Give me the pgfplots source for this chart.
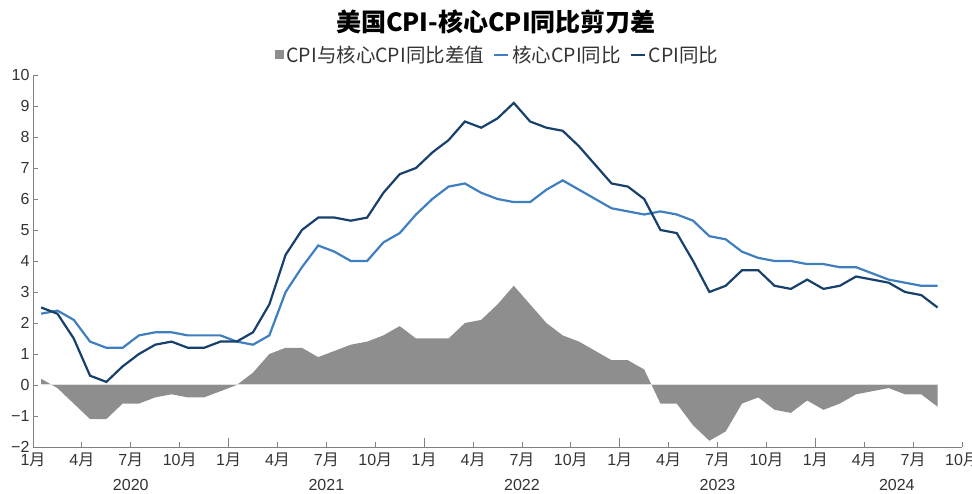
\documentclass[border=0pt]{standalone}
\usepackage{fontspec}
\setmainfont{Liberation Sans}
\newfontfamily\cjk{Noto Sans CJK SC}
\usepackage{pgfplots}
\pgfplotsset{compat=1.18}
\usepackage{pgfplotstable}

\definecolor{cpi}{HTML}{17406C}
\definecolor{core}{HTML}{3F7FBF}
\definecolor{diff}{HTML}{8E8E8E}
\definecolor{axisgray}{HTML}{808080}
\newcommand\m[1]{#1{\cjk 月}}

\pgfplotstableread{
x cpi core diff
0.5 2.5 2.3 0.2
1.5 2.3 2.4 -0.1
2.5 1.5 2.1 -0.6
3.5 0.3 1.4 -1.1
4.5 0.1 1.2 -1.1
5.5 0.6 1.2 -0.6
6.5 1.0 1.6 -0.6
7.5 1.3 1.7 -0.4
8.5 1.4 1.7 -0.3
9.5 1.2 1.6 -0.4
10.5 1.2 1.6 -0.4
11.5 1.4 1.6 -0.2
12.5 1.4 1.4 0.0
13.5 1.7 1.3 0.4
14.5 2.6 1.6 1.0
15.5 4.2 3.0 1.2
16.5 5.0 3.8 1.2
17.5 5.4 4.5 0.9
18.5 5.4 4.3 1.1
19.5 5.3 4.0 1.3
20.5 5.4 4.0 1.4
21.5 6.2 4.6 1.6
22.5 6.8 4.9 1.9
23.5 7.0 5.5 1.5
24.5 7.5 6.0 1.5
25.5 7.9 6.4 1.5
26.5 8.5 6.5 2.0
27.5 8.3 6.2 2.1
28.5 8.6 6.0 2.6
29.5 9.1 5.9 3.2
30.5 8.5 5.9 2.6
31.5 8.3 6.3 2.0
32.5 8.2 6.6 1.6
33.5 7.7 6.3 1.4
34.5 7.1 6.0 1.1
35.5 6.5 5.7 0.8
36.5 6.4 5.6 0.8
37.5 6.0 5.5 0.5
38.5 5.0 5.6 -0.6
39.5 4.9 5.5 -0.6
40.5 4.0 5.3 -1.3
41.5 3.0 4.8 -1.8
42.5 3.2 4.7 -1.5
43.5 3.7 4.3 -0.6
44.5 3.7 4.1 -0.4
45.5 3.2 4.0 -0.8
46.5 3.1 4.0 -0.9
47.5 3.4 3.9 -0.5
48.5 3.1 3.9 -0.8
49.5 3.2 3.8 -0.6
50.5 3.5 3.8 -0.3
51.5 3.4 3.6 -0.2
52.5 3.3 3.4 -0.1
53.5 3.0 3.3 -0.3
54.5 2.9 3.2 -0.3
55.5 2.5 3.2 -0.7
}\data

\begin{document}
\begin{tikzpicture}
\begin{axis}[
  at={(0,0)}, anchor=south west,
  scale only axis, width=929pt, height=372pt,
  xmin=0, xmax=57, ymin=-2, ymax=10,
  axis x line=bottom, axis y line=left,
  axis line style={-, draw=axisgray, line width=0.8pt},
  tick align=inside,
  tick style={draw=axisgray, line width=0.8pt},
  major tick length=5pt,
  xtick={0,3,...,57},
  xticklabels={\m1,\m4,\m7,\m{10},\m1,\m4,\m7,\m{10},\m1,\m4,\m7,\m{10},\m1,\m4,\m7,\m{10},\m1,\m4,\m7,\m{10}},
  extra x ticks={0,12,24,36,48},
  extra x tick labels={},
  extra x tick style={major tick length=9pt},
  ytick={-2,-1,...,10},
  yticklabels={−2,−1,0,1,2,3,4,5,6,7,8,9,10},
  ticklabel style={font=\fontsize{16}{16}\selectfont, text=black!80},
  xticklabel style={yshift=-2pt},
  legend columns=3,
  legend cell align=left,
  legend style={at={(0.5,1.054)}, anchor=center, draw=none, fill=none,
    font=\cjk\fontsize{19.5}{19.5}\selectfont, text=black!80,
    /tikz/every even column/.append style={column sep=7pt},
    /tikz/every odd column/.append style={column sep=1pt}},
  legend image code/.code={\draw[#1] (0pt,0pt) -- (14pt,0pt);},
  clip=false,
]
\addplot[fill=diff, draw=none, area legend,
  legend image code/.code={\fill[diff] (3pt,-4.5pt) rectangle (12pt,4.5pt);}]
  table[x=x,y=diff]{\data} \closedcycle;
\addlegendentry{CPI与核心CPI同比差值}
\addplot[forget plot, draw=white!75!gray, line width=1pt] coordinates {(0.5,0) (55.5,0)};
\addplot[core, line width=2.2pt] table[x=x,y=core]{\data};
\addlegendentry{核心CPI同比}
\addplot[cpi, line width=2.2pt] table[x=x,y=cpi]{\data};
\addlegendentry{CPI同比}
\node[font=\fontsize{16}{16}\selectfont, text=black!80] at (axis cs:6,-2) [yshift=-38pt] {2020};
\node[font=\fontsize{16}{16}\selectfont, text=black!80] at (axis cs:18,-2) [yshift=-38pt] {2021};
\node[font=\fontsize{16}{16}\selectfont, text=black!80] at (axis cs:30,-2) [yshift=-38pt] {2022};
\node[font=\fontsize{16}{16}\selectfont, text=black!80] at (axis cs:42,-2) [yshift=-38pt] {2023};
\node[font=\fontsize{16}{16}\selectfont, text=black!80] at (axis cs:53,-2) [yshift=-38pt] {2024};
\end{axis}
\node[font=\cjk\bfseries\fontsize{25}{25}\selectfont] at (463pt,425pt) {美国CPI-核心CPI同比剪刀差};
\pgfresetboundingbox
\path[use as bounding box] (-33pt,-47pt) rectangle (939pt,447pt);
\end{tikzpicture}
\end{document}
